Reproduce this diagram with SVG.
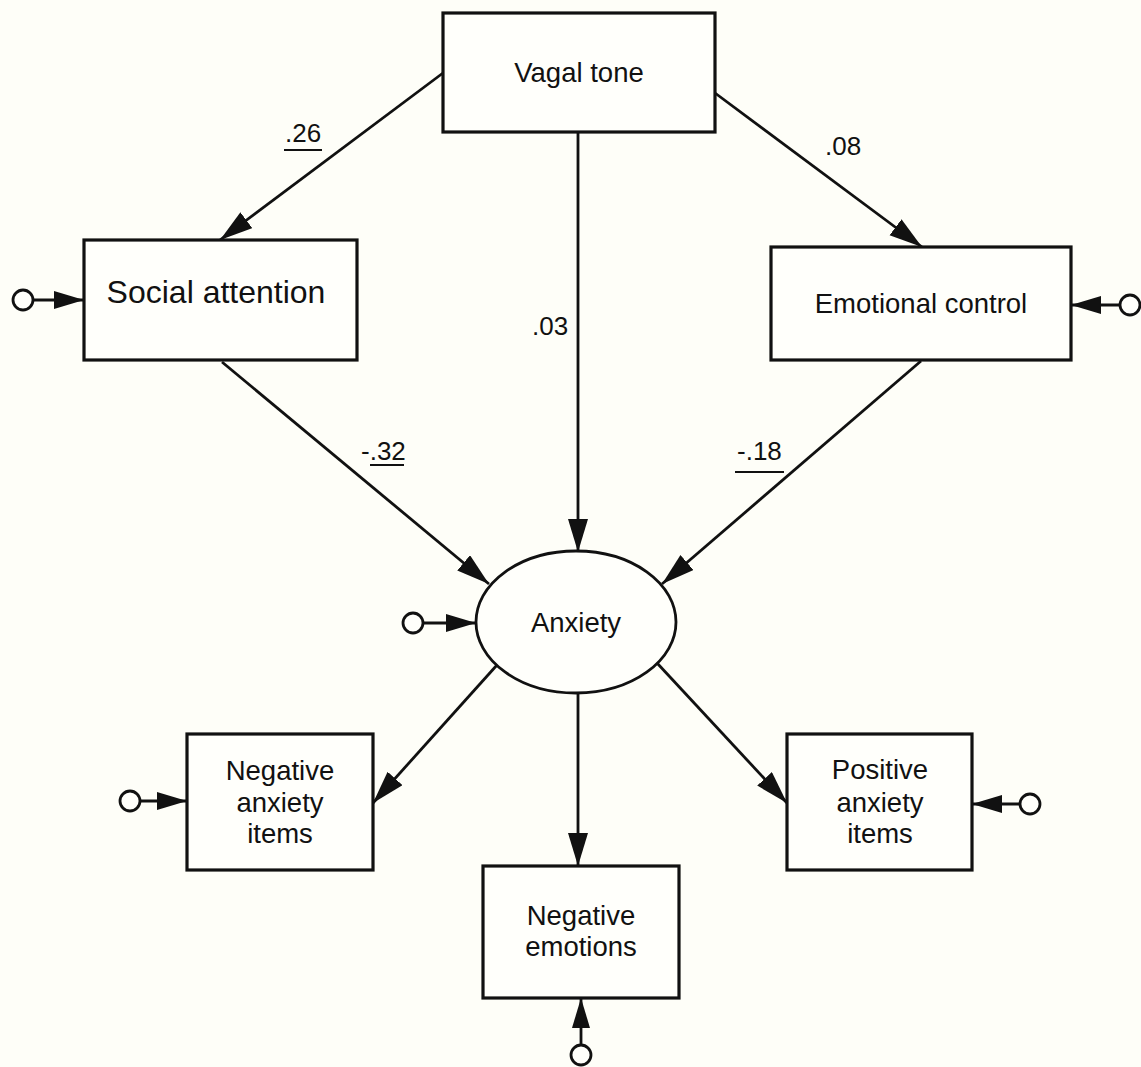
<svg xmlns="http://www.w3.org/2000/svg" width="1141" height="1067" viewBox="0 0 1141 1067">
<defs>
<style>
.box{fill:#fffffb;stroke:#111;stroke-width:3.2}
.ell{fill:#fffffb;stroke:#111;stroke-width:2.8}
.t{font-family:"Liberation Sans",Arial,sans-serif;font-size:27.5px;fill:#111;text-anchor:middle}
.lbl{font-family:"Liberation Sans",Arial,sans-serif;font-size:26px;fill:#111}
.ln{stroke:#111;stroke-width:2.8;fill:none}
.arr{marker-end:url(#ah)}
.earr{marker-end:url(#eh)}
.ec{fill:#fffffb;stroke:#111;stroke-width:2.8}
.ul{stroke:#111;stroke-width:1.8}
</style>
<marker id="ah" markerUnits="userSpaceOnUse" markerWidth="36" markerHeight="22" refX="33" refY="10" orient="auto" viewBox="0 0 36 22">
<path d="M0,0 L33,10 L0,20 z" fill="#111"/>
</marker>
<marker id="eh" markerUnits="userSpaceOnUse" markerWidth="32" markerHeight="20" refX="30" refY="9" orient="auto" viewBox="0 0 32 20">
<path d="M0,0 L30,9 L0,18 z" fill="#111"/>
</marker>
</defs>
<rect width="1141" height="1067" fill="#fefef8"/>

<g id="connectors">
<line class="ln arr" x1="443" y1="73" x2="220" y2="240"/>
<line class="ln arr" x1="715" y1="93" x2="922" y2="247"/>
<line class="ln arr" x1="578" y1="132" x2="578" y2="552"/>
<line class="ln arr" x1="222" y1="362" x2="489" y2="584"/>
<line class="ln arr" x1="921" y1="361" x2="662" y2="584"/>
<line class="ln arr" x1="497" y1="665" x2="373" y2="803"/>
<line class="ln arr" x1="657" y1="663" x2="787" y2="803"/>
<line class="ln arr" x1="578" y1="693" x2="578" y2="866"/>
<line class="ln earr" x1="33" y1="300" x2="84" y2="300"/>
<line class="ln earr" x1="1120" y1="305" x2="1071" y2="305"/>
<line class="ln earr" x1="423" y1="623" x2="476" y2="623"/>
<line class="ln earr" x1="140" y1="801" x2="187" y2="801"/>
<line class="ln earr" x1="1020" y1="804" x2="972" y2="804"/>
<line class="ln earr" x1="581" y1="1045" x2="581" y2="998"/>
<circle class="ec" cx="23" cy="300" r="10"/>
<circle class="ec" cx="1130" cy="305" r="10"/>
<circle class="ec" cx="413" cy="623" r="10"/>
<circle class="ec" cx="130" cy="801" r="10"/>
<circle class="ec" cx="1030" cy="804" r="10"/>
<circle class="ec" cx="581" cy="1055" r="10"/>
<text class="lbl" x="285" y="142">.26</text>
<line class="ul" x1="284" y1="150" x2="322" y2="150"/>
<text class="lbl" x="825" y="155">.08</text>
<text class="lbl" x="532" y="335">.03</text>
<text class="lbl" x="361" y="460">-.32</text>
<line class="ul" x1="370" y1="465" x2="404" y2="465"/>
<text class="lbl" x="737" y="460">-.18</text>
<line class="ul" x1="735" y1="472" x2="784" y2="472"/>
</g>

<g id="vagal-tone">
<rect class="box" x="443" y="13" width="272" height="119"/>
<text class="t" x="579" y="82">Vagal tone</text>
</g>
<g id="social-attention">
<rect class="box" x="84" y="240" width="273" height="120"/>
<text class="t" x="216" y="303" style="font-size:32px">Social attention</text>
</g>
<g id="emotional-control">
<rect class="box" x="771" y="247" width="300" height="113"/>
<text class="t" x="921" y="313">Emotional control</text>
</g>
<g id="anxiety">
<ellipse class="ell" cx="576" cy="622" rx="100" ry="71"/>
<text class="t" x="576" y="632">Anxiety</text>
</g>
<g id="negative-anxiety-items">
<rect class="box" x="187" y="734" width="186" height="136"/>
<text class="t" x="280" y="780">Negative</text>
<text class="t" x="280" y="812">anxiety</text>
<text class="t" x="280" y="843">items</text>
</g>
<g id="positive-anxiety-items">
<rect class="box" x="787" y="734" width="185" height="136"/>
<text class="t" x="880" y="779">Positive</text>
<text class="t" x="880" y="812">anxiety</text>
<text class="t" x="880" y="843">items</text>
</g>
<g id="negative-emotions">
<rect class="box" x="483" y="866" width="196" height="132"/>
<text class="t" x="581" y="925">Negative</text>
<text class="t" x="581" y="956">emotions</text>
</g>
</svg>
